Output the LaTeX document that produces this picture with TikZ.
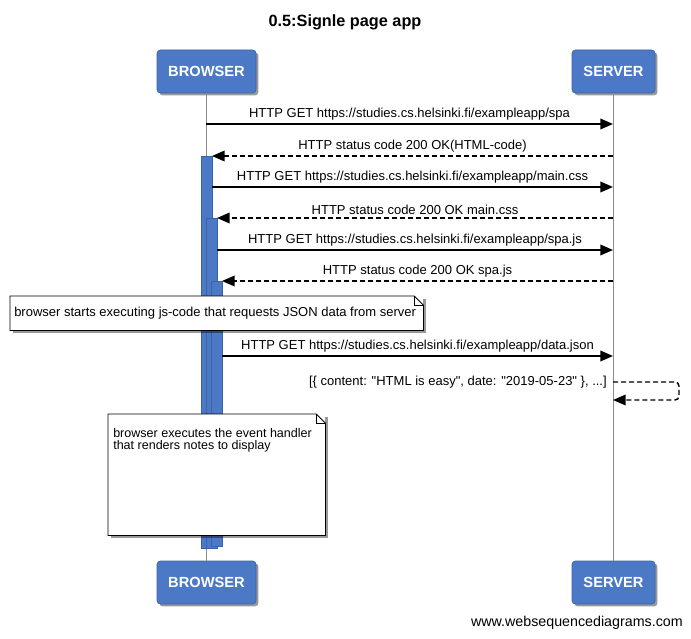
\documentclass[tikz,border=0pt]{standalone}
\usepackage{fontspec}
\setmainfont{Liberation Sans}
\usetikzlibrary{arrows.meta,shadows}
\definecolor{pblue}{HTML}{4C79C6}
\definecolor{pedge}{HTML}{3A62A8}
\definecolor{lifeg}{HTML}{8C8C8C}
\begin{document}
\begin{tikzpicture}[x=0.75pt,y=-0.75pt,
  every node/.style={font=\fontsize{9.75}{11.7}\selectfont},
  participant/.style={rectangle, rounded corners=2.5pt, fill=pblue, draw=pedge, line width=0.5pt,
    text=white, font=\bfseries\fontsize{11}{13}\selectfont, minimum height=32.25pt, inner sep=0pt,
    drop shadow={shadow xshift=1.8pt, shadow yshift=-1.8pt, opacity=0.4, fill=black}},
  lifeline/.style={draw=lifeg, line width=1.1pt},
  actbar/.style={rectangle, fill=pblue, draw=pedge, line width=0.5pt, inner sep=0pt, minimum width=8.25pt, anchor=north west},
  msg/.style={line width=1.1pt, -{Triangle[length=9.5pt,width=8pt]}},
  reply/.style={msg, dash pattern=on 3.75pt off 2.25pt},
  lbl/.style={inner sep=2pt},
  notebox/.style={rectangle, fill=white, draw=none, inner sep=0pt,
    drop shadow={shadow xshift=2pt, shadow yshift=-2pt, opacity=0.4, fill=black}},
  noteline/.style={draw=black, line width=0.6pt}
]
\useasboundingbox (0,0) rectangle (691,638);

% title
\node[font=\bfseries\fontsize{12.2}{14}\selectfont] (title) at (345,22) {0.5:Signle page app};

% participants
\node[participant, minimum width=74.25pt] (btop) at (206.5,71.5) {BROWSER};
\node[participant, minimum width=62.25pt] (stop) at (613.5,71.5) {SERVER};
\node[participant, minimum width=74.25pt] (bbot) at (206.5,582.5) {BROWSER};
\node[participant, minimum width=62.25pt] (sbot) at (613.5,582.5) {SERVER};

% lifelines
\draw[lifeline] (btop) -- (bbot);
\draw[lifeline] (stop) -- (sbot);

% activation bars
\node[actbar, minimum height=294pt] (act1) at (201,156) {};
\node[actbar, minimum height=247.5pt] (act2) at (206,218) {};
\node[actbar, minimum height=198.5pt] (act3) at (211,281) {};

% coordinates
\coordinate (b1) at (206,124);  \coordinate (s1) at (613,124);
\coordinate (s2) at (613,156);  \coordinate (a2) at (212,156);
\coordinate (a3) at (212,187);  \coordinate (s3) at (613,187);
\coordinate (s4) at (613,218);  \coordinate (a4) at (217,218);
\coordinate (a5) at (217,250);  \coordinate (s5) at (613,250);
\coordinate (s6) at (613,281);  \coordinate (a6) at (222,281);
\coordinate (a7) at (222,356);  \coordinate (s7) at (613,356);
\coordinate (l1) at (613,382);  \coordinate (l2) at (613,400);
\coordinate (lr1) at (679,382); \coordinate (lr2) at (679,400);

% messages
\draw[msg] (b1) -- node[lbl,above] (t1) {HTTP GET https://studies.cs.helsinki.fi/exampleapp/spa} (s1);
\draw[reply] (s2) -- node[lbl,above] (t2) {HTTP status code 200 OK(HTML-code)} (a2);
\draw[msg] (a3) -- node[lbl,above] (t3) {HTTP GET https://studies.cs.helsinki.fi/exampleapp/main.css} (s3);
\draw[reply] (s4) -- node[lbl,above] (t4) {HTTP status code 200 OK main.css} (a4);
\draw[msg] (a5) -- node[lbl,above] (t5) {HTTP GET https://studies.cs.helsinki.fi/exampleapp/spa.js} (s5);
\draw[reply] (s6) -- node[lbl,above] (t6) {HTTP status code 200 OK spa.js} (a6);
\draw[msg] (a7) -- node[lbl,above] (t7) {HTTP GET https://studies.cs.helsinki.fi/exampleapp/data.json} (s7);
\draw[reply, rounded corners=3pt] (l1) -- (lr1) -- (lr2) -- (l2);
\node[anchor=east, inner sep=0pt] (t8) at (607,382) {[\{ content: \textquotedbl HTML is easy\textquotedbl, date: \textquotedbl 2019-05-23\textquotedbl\ \}, ...]};

% note 1
\node[notebox, anchor=north west, minimum width=309.75pt, minimum height=25.5pt] (n1) at (10,296) {};
\draw[noteline] (n1.north west) -- ([xshift=-7pt]n1.north east) -- ([yshift=-7pt]n1.north east) -- (n1.south east) -- (n1.south west) -- cycle;
\draw[noteline] ([xshift=-7pt]n1.north east) |- ([yshift=-7pt]n1.north east);
\node[anchor=west, inner sep=0pt] (n1t) at (14,313) {browser starts executing js-code that requests JSON data from server};

% note 2
\node[notebox, anchor=north west, minimum width=162.75pt, minimum height=90.75pt] (n2) at (108,414) {};
\draw[noteline] (n2.north west) -- ([xshift=-7pt]n2.north east) -- ([yshift=-7pt]n2.north east) -- (n2.south east) -- (n2.south west) -- cycle;
\draw[noteline] ([xshift=-7pt]n2.north east) |- ([yshift=-7pt]n2.north east);
\node[anchor=base west, inner sep=0pt, align=left, font=\fontsize{9.4}{9.3}\selectfont] (n2t) at (113,449.5) {browser executes the event handler\\that renders notes to display};

% watermark
\node[anchor=east, inner sep=0pt, font=\fontsize{10.7}{12}\selectfont] (wm) at (683,623) {www.websequencediagrams.com};
\end{tikzpicture}
\end{document}
